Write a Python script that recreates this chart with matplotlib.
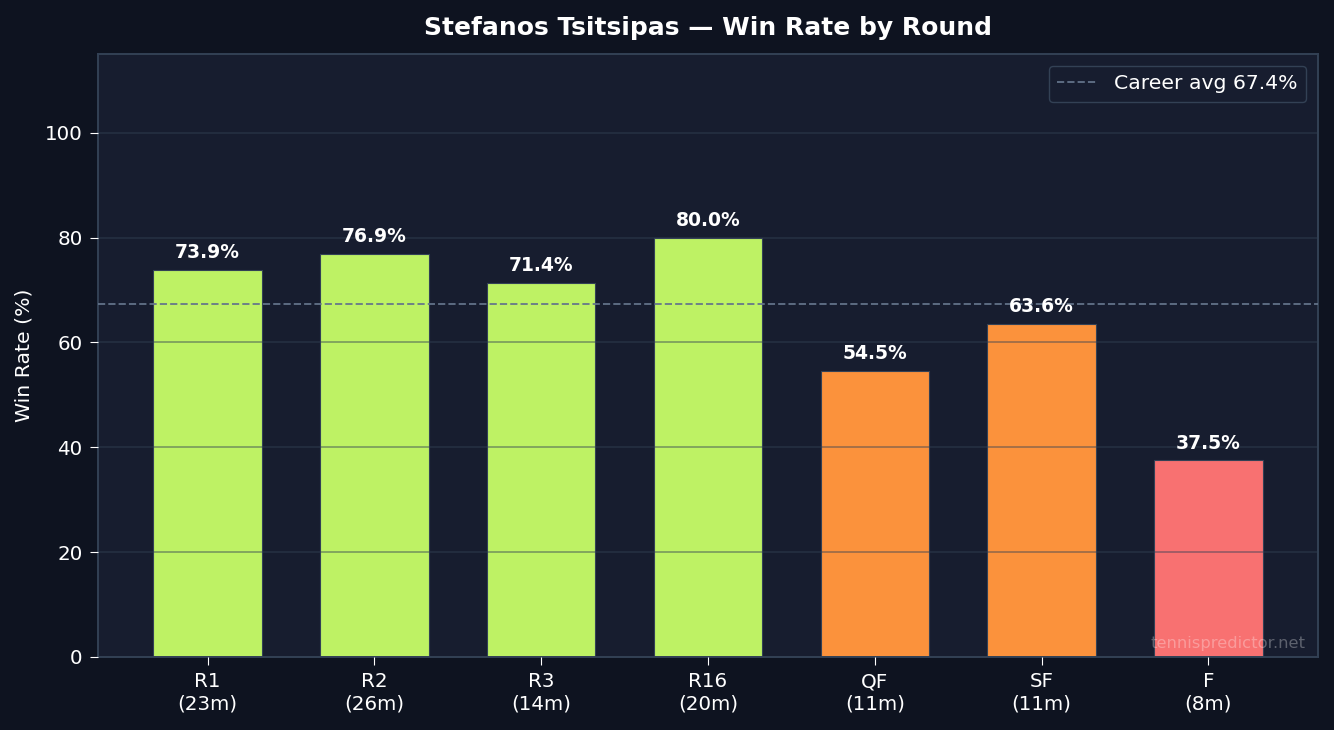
import matplotlib
matplotlib.use("Agg")
import matplotlib.pyplot as plt

rounds = ["R1", "R2", "R3", "R16", "QF", "SF", "F"]
matches = [23, 26, 14, 20, 11, 11, 8]
win_rates = [73.9, 76.9, 71.4, 80.0, 54.5, 63.6, 37.5]
bar_colors = ["#bef264", "#bef264", "#bef264", "#bef264", "#fb923c", "#fb923c", "#f87171"]
career_avg = 67.4

FIG_BG = "#0e1320"
AX_BG = "#171d2f"
SPINE = "#334155"

fig = plt.figure(figsize=(13.34, 7.3), dpi=100, facecolor=FIG_BG)
ax = fig.add_axes([98/1334, 1 - 657/730, (1318-98)/1334, (657-54)/730])
ax.set_facecolor(AX_BG)

x = list(range(len(rounds)))
bars = ax.bar(x, win_rates, width=0.65, color=bar_colors, edgecolor=SPINE, linewidth=0.8, zorder=2)

for xi, v in zip(x, win_rates):
    ax.text(xi, v + 1.5, f"{v:.1f}%", ha="center", va="bottom", color="white",
            fontsize=13.5, fontweight="bold", zorder=4)

ax.axhline(career_avg, color="#64748b", linestyle="--", linewidth=1.4, alpha=0.9,
           label=f"Career avg {career_avg}%", zorder=3)

ax.set_ylim(0, 115)
ax.set_yticks([0, 20, 40, 60, 80, 100])
ax.set_xticks(x)
ax.set_xticklabels([f"{r}\n({m}m)" for r, m in zip(rounds, matches)])
ax.tick_params(colors="white", labelsize=14.3, length=6, pad=5)
ax.yaxis.grid(True, color="#334155", alpha=0.5, linewidth=1.2, zorder=3)
ax.set_axisbelow(False)
for sp in ax.spines.values():
    sp.set_color(SPINE)
    sp.set_linewidth(1.4)

ax.set_ylabel("Win Rate (%)", color="white", fontsize=14.7, labelpad=8)
ax.set_title("Stefanos Tsitsipas — Win Rate by Round", color="white", fontsize=18,
             fontweight="bold", pad=14)

leg = ax.legend(loc="upper right", fontsize=14.7, facecolor=AX_BG, edgecolor=SPINE,
                labelcolor="white", framealpha=1, borderaxespad=0.6)

ax.text(0.99, 0.01, "tennispredictor.net", transform=ax.transAxes, ha="right", va="bottom",
        color="white", alpha=0.3, fontsize=11.8, zorder=5)

fig.savefig("out.png", dpi=100, facecolor=FIG_BG)
